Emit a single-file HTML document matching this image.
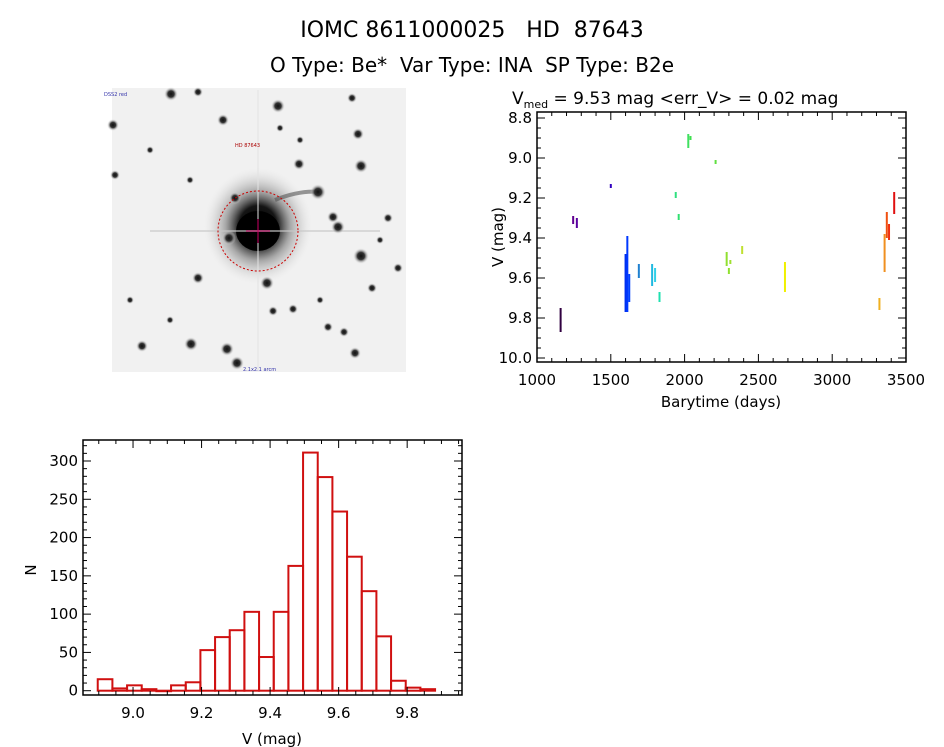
<!DOCTYPE html>
<html><head><meta charset="utf-8">
<style>
body{margin:0;background:#fff;}
svg{display:block;font-family:"DejaVu Sans","Liberation Sans",sans-serif;}
.pre{white-space:pre;}
</style></head>
<body>
<svg id="root" width="944" height="747" viewBox="0 0 944 747">
<defs>
<radialGradient id="glow" cx="50%" cy="50%" r="50%">
<stop offset="0" stop-color="#000"/>
<stop offset="0.35" stop-color="#151515"/>
<stop offset="0.6" stop-color="#888" stop-opacity="0.7"/>
<stop offset="1" stop-color="#ddd" stop-opacity="0"/>
</radialGradient>
<radialGradient id="starg" cx="50%" cy="50%" r="50%">
<stop offset="0" stop-color="#111"/>
<stop offset="0.45" stop-color="#333"/>
<stop offset="1" stop-color="#eee" stop-opacity="0"/>
</radialGradient>
</defs>
<text class="pre" x="472" y="37" font-size="22" text-anchor="middle">IOMC 8611000025   HD  87643</text>
<text class="pre" x="472" y="72" font-size="20" text-anchor="middle">O Type: Be*  Var Type: INA  SP Type: B2e</text>

<g id="img">
<rect x="112" y="88" width="294" height="284" fill="#f1f1f1"/>
<ellipse cx="258" cy="226" rx="54" ry="58" fill="url(#glow)"/>
<ellipse cx="258" cy="231" rx="22" ry="20" fill="#000"/>
<rect x="150" y="230" width="230" height="2" fill="#c8c8c8" opacity="0.6"/>
<rect x="257.5" y="90" width="1" height="280" fill="#e2e2e2"/>
<path d="M275 200 Q300 190 320 192" stroke="#555" stroke-width="4" fill="none" opacity="0.6"/>
<circle cx="258" cy="231" r="40" fill="none" stroke="#c00" stroke-width="1" stroke-dasharray="2,2"/>
<line x1="246" y1="231" x2="270" y2="231" stroke="#c06" stroke-width="1"/>
<line x1="258" y1="219" x2="258" y2="243" stroke="#c06" stroke-width="1"/>
<text x="235" y="147" font-size="5" fill="#a00">HD 87643</text>
<text x="104" y="96" font-size="5" fill="#33a">DSS2 red</text>
<text x="243" y="371" font-size="5" fill="#33a">2.1x2.1 arcm</text>
</g>

<g id="lc"></g>
<g id="hist"></g>
</svg>
<script>
const starX=[171,278,223,113,358,299,361,115,318,235,338,333,229,361,198,267,273,293,142,191,227,237,355,344,328,372,398,388,352,198,150,190,280,300,320,170,380,130];
const starY=[94,106,120,125,134,164,166,175,192,198,227,217,238,256,278,283,311,309,346,344,349,363,353,332,327,288,268,218,98,92,150,180,128,140,300,320,240,300];
const starR=[6,6,5,5,5,5,6,4,7,5,6,5,6,7,5,6,4,4,5,6,6,6,5,4,4,4,4,4,4,4,3,3,3,3,3,3,3,3];

const lcT=[1160,1245,1270,1500,1600,1612,1625,1690,1780,1800,1830,1940,1960,2025,2040,2210,2285,2300,2310,2390,2680,3320,3355,3370,3385,3420];
const lcV1=[9.75,9.29,9.30,9.13,9.48,9.39,9.58,9.53,9.53,9.55,9.67,9.17,9.28,8.88,8.89,9.01,9.47,9.55,9.51,9.44,9.52,9.70,9.38,9.27,9.33,9.17];
const lcV2=[9.87,9.33,9.35,9.15,9.77,9.77,9.72,9.60,9.64,9.62,9.72,9.20,9.31,8.95,8.91,9.03,9.54,9.58,9.53,9.48,9.67,9.76,9.57,9.40,9.41,9.28];
const lcColor=["#300040","#600090","#5a00a0","#3000c0","#0030f0","#0038ff","#0040ff","#2080d0","#20b8e0","#30d0e8","#20e0b0","#30e080","#30e070","#40e060","#40e050","#60e040","#90e030","#90e030","#a0e030","#c0e030","#f0f000","#f0b020","#f09020","#f05010","#f03010","#e01010"];
const lcXTicks=[1000,1500,2000,2500,3000,3500];
const lcYTicks=[8.8,9.0,9.2,9.4,9.6,9.8,10.0];
const lcYLabels=["8.8","9.0","9.2","9.4","9.6","9.8","10.0"];

const hStart=8.897, hWidth=0.0428;
const hCounts=[15,3,7,2,0,7,11,53,70,79,103,44,103,163,311,279,234,175,130,71,13,4,2];
const hXTicks=[9.0,9.2,9.4,9.6,9.8];
const hXLabels=["9.0","9.2","9.4","9.6","9.8"];
const hYTicks=[0,50,100,150,200,250,300];

const NS="http://www.w3.org/2000/svg";
function mk(tag,attrs,parent,txt){const e=document.createElementNS(NS,tag);for(const k in attrs)e.setAttribute(k,attrs[k]);if(txt!==undefined)e.textContent=txt;parent.appendChild(e);return e;}

const img=document.getElementById('img');
const circ0=img.querySelector('circle');
starX.forEach((x,i)=>{const c=mk('circle',{cx:x,cy:starY[i],r:starR[i]+1,fill:'url(#starg)'},img);


img.insertBefore(c,circ0);});

const L={x0:537,x1:906,y0:112,y1:362,tmin:1000,tmax:3500,vmin:8.77,vmax:10.02};
const lx=t=>L.x0+(t-L.tmin)/(L.tmax-L.tmin)*(L.x1-L.x0);
const ly=v=>L.y0+(v-L.vmin)/(L.vmax-L.vmin)*(L.y1-L.y0);
const lc=document.getElementById('lc');
lcT.forEach((t,i)=>{const y1=ly(lcV1[i]),y2=ly(lcV2[i]);
const r=mk('rect',{x:lx(t)-1,y:y1,width:2,height:Math.max(3,y2-y1),fill:lcColor[i]},lc);

});
mk('rect',{x:L.x0,y:L.y0,width:L.x1-L.x0,height:L.y1-L.y0,fill:'none',stroke:'#000','stroke-width':1.5},lc);
for(let t=1000;t<=3500;t+=100){const x=lx(t);const big=t%500===0;const h=big?8:4;
mk('line',{x1:x,y1:L.y1,x2:x,y2:L.y1-h,stroke:'#000','stroke-width':1},lc);
mk('line',{x1:x,y1:L.y0,x2:x,y2:L.y0+h,stroke:'#000','stroke-width':1},lc);}
lcXTicks.forEach(t=>{const e=mk('text',{x:lx(t),y:L.y1+23,'font-size':15,'text-anchor':'middle'},lc,String(t));

});
for(let k=0;k<=25;k++){const v=8.8+k*0.05;if(v>10.01)break;const y=ly(v);const big=k%4===0;const h=big?8:4;
mk('line',{x1:L.x0,y1:y,x2:L.x0+h,y2:y,stroke:'#000','stroke-width':1},lc);
mk('line',{x1:L.x1,y1:y,x2:L.x1-h,y2:y,stroke:'#000','stroke-width':1},lc);}
lcYTicks.forEach((v,i)=>{const e=mk('text',{x:L.x0-5,y:ly(v)+5,'font-size':15,'text-anchor':'end'},lc,lcYLabels[i]);

});
let e=mk('text',{x:721,y:407,'font-size':15,'text-anchor':'middle'},lc,'Barytime (days)');

e=mk('text',{x:0,y:0,'font-size':15,'text-anchor':'middle',transform:'translate(503,237) rotate(-90)'},lc,'V (mag)');

e=mk('text',{x:512,y:104,'font-size':17},lc,'');

mk('tspan',{},e,'V');mk('tspan',{'font-size':11,dy:4},e,'med');mk('tspan',{dy:-4},e,' = 9.53 mag <err_V> = 0.02 mag');

const H={x0:83,x1:462,y0:440,y1:695,vmin:8.854,vmax:9.96,nmax:327,zeroY:690.7};
const hx=v=>H.x0+(v-H.vmin)/(H.vmax-H.vmin)*(H.x1-H.x0);
const hy=n=>H.zeroY-n*(H.zeroY-461)/300;
const hist=document.getElementById('hist');
hCounts.forEach((n,i)=>{const a=hx(hStart+i*hWidth),b=hx(hStart+(i+1)*hWidth);
const r=mk('rect',{x:a,y:hy(n),width:b-a,height:Math.max(0.5,H.zeroY-hy(n)),fill:'none',stroke:'#d01010','stroke-width':2},hist);

});
mk('rect',{x:H.x0,y:H.y0,width:H.x1-H.x0,height:H.y1-H.y0,fill:'none',stroke:'#000','stroke-width':1.5},hist);
for(let k=0;k<=21;k++){const v=8.9+k*0.05;if(v>9.96)break;const x=hx(v);const big=Math.abs(((v-9.0)/0.2)-Math.round((v-9.0)/0.2))<0.01;const h=big?8:4;
mk('line',{x1:x,y1:H.y1,x2:x,y2:H.y1-h,stroke:'#000','stroke-width':1},hist);
mk('line',{x1:x,y1:H.y0,x2:x,y2:H.y0+h,stroke:'#000','stroke-width':1},hist);}
hXTicks.forEach((v,i)=>{const t=mk('text',{x:hx(v),y:H.y1+23,'font-size':15,'text-anchor':'middle'},hist,hXLabels[i]);

});
for(let n=0;n<=325;n+=10){const y=hy(n);const big=n%50===0;const h=big?8:4;
mk('line',{x1:H.x0,y1:y,x2:H.x0+h,y2:y,stroke:'#000','stroke-width':1},hist);
mk('line',{x1:H.x1,y1:y,x2:H.x1-h,y2:y,stroke:'#000','stroke-width':1},hist);}
hYTicks.forEach(n=>{const t=mk('text',{x:H.x0-5,y:hy(n)+5,'font-size':15,'text-anchor':'end'},hist,String(n));

});
e=mk('text',{x:272,y:744,'font-size':15,'text-anchor':'middle'},hist,'V (mag)');

e=mk('text',{x:0,y:0,'font-size':15,'text-anchor':'middle',transform:'translate(36,570) rotate(-90)'},hist,'N');

</script>
</body></html>
